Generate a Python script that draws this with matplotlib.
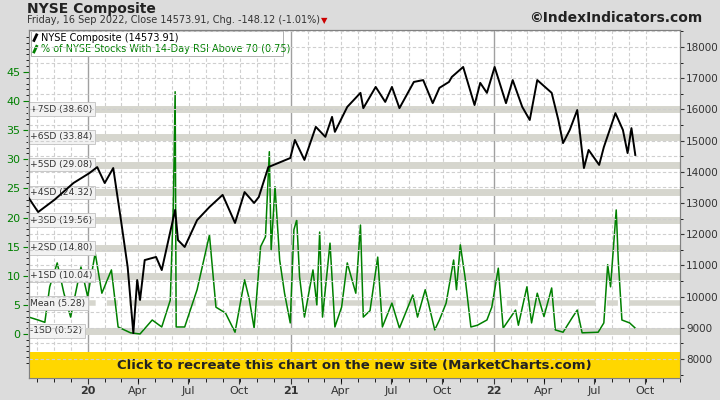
import matplotlib
matplotlib.use("Agg")
import matplotlib.pyplot as plt
from matplotlib.patches import Rectangle
import numpy as np

# ---- data (decimal years) ----
nyse_t = [2019.710, 2019.756, 2019.836, 2019.930, 2020.009, 2020.047, 2020.084, 2020.126, 2020.164, 2020.197,
          2020.225, 2020.244, 2020.258, 2020.281, 2020.337, 2020.365, 2020.431, 2020.445, 2020.478, 2020.539,
          2020.600, 2020.665, 2020.726, 2020.773, 2020.820, 2020.843, 2020.890, 2020.998, 2021.021, 2021.068,
          2021.124, 2021.171, 2021.204, 2021.218, 2021.279, 2021.344, 2021.358, 2021.419, 2021.466, 2021.499,
          2021.536, 2021.607, 2021.653, 2021.700, 2021.733, 2021.780, 2021.794, 2021.850, 2021.906, 2021.934,
          2021.967, 2022.005, 2022.061, 2022.094, 2022.141, 2022.178, 2022.215, 2022.286, 2022.319, 2022.342,
          2022.375, 2022.412, 2022.445, 2022.468, 2022.520, 2022.543, 2022.600, 2022.637, 2022.660, 2022.679,
          2022.698]
nyse_v = [13160, 12710, 13100, 13640, 13960, 14150, 13640, 14120, 12450, 10950,
          8830, 10530, 9890, 11170, 11270, 10850, 12780, 11810, 11590, 12450,
          12870, 13260, 12360, 13350, 13000, 13190, 14150, 14440, 15020, 14380,
          15440, 15120, 15760, 15280, 16080, 16530, 16040, 16720, 16240, 16720,
          16040, 16880, 16940, 16200, 16690, 16880, 17040, 17360, 16140, 16850,
          16530, 17360, 16200, 16940, 16080, 15660, 16940, 16530, 15660, 14920,
          15340, 15980, 14120, 14700, 14220, 14790, 15880, 15340, 14600, 15400,
          14540]

rsi_t = [2019.710, 2019.756, 2019.789, 2019.813, 2019.850, 2019.883, 2019.916, 2019.967, 2020.000, 2020.037,
         2020.070, 2020.117, 2020.150, 2020.211, 2020.258, 2020.318, 2020.365, 2020.407, 2020.422, 2020.431,
         2020.436, 2020.478, 2020.539, 2020.600, 2020.632, 2020.679, 2020.726, 2020.773, 2020.796, 2020.820,
         2020.852, 2020.876, 2020.895, 2020.904, 2020.923, 2020.946, 2020.970, 2020.998, 2021.016, 2021.030,
         2021.044, 2021.068, 2021.110, 2021.129, 2021.143, 2021.157, 2021.194, 2021.218, 2021.251, 2021.279,
         2021.321, 2021.344, 2021.358, 2021.391, 2021.429, 2021.452, 2021.499, 2021.536, 2021.602, 2021.625,
         2021.663, 2021.710, 2021.733, 2021.766, 2021.780, 2021.803, 2021.817, 2021.836, 2021.859, 2021.888,
         2021.920, 2021.967, 2021.991, 2022.023, 2022.047, 2022.108, 2022.122, 2022.164, 2022.187, 2022.215,
         2022.248, 2022.286, 2022.304, 2022.342, 2022.389, 2022.412, 2022.436, 2022.515, 2022.543, 2022.562,
         2022.576, 2022.604, 2022.614, 2022.632, 2022.670, 2022.698]
rsi_v = [2.9, 2.4, 2.0, 8.1, 12.2, 7.0, 2.9, 11.5, 6.4, 13.9,
         7.0, 11.0, 1.2, 0.2, 0.0, 2.4, 1.2, 5.8, 22.0, 41.6,
         1.2, 1.2, 7.6, 17.0, 4.6, 3.6, 0.3, 9.3, 6.0, 1.0,
         15.0, 16.7, 31.3, 14.4, 25.3, 12.7, 7.0, 1.9, 17.9, 19.6,
         9.8, 2.9, 11.0, 5.0, 17.5, 2.9, 15.6, 1.2, 4.6, 12.2,
         7.0, 18.7, 2.9, 4.0, 13.2, 1.2, 5.3, 1.0, 6.7, 2.9,
         7.6, 0.7, 2.4, 5.3, 8.1, 12.7, 7.6, 15.3, 9.8, 1.2,
         1.5, 2.4, 4.6, 11.3, 1.0, 4.1, 1.5, 8.1, 1.9, 7.0,
         3.0, 7.9, 0.7, 0.3, 2.9, 4.1, 0.2, 0.3, 1.9, 11.9,
         8.1, 21.3, 12.7, 2.4, 1.9, 1.0]

sd_labels = ["+7SD (38.60)", "+6SD (33.84)", "+5SD (29.08)", "+4SD (24.32)", "+3SD (19.56)",
             "+2SD (14.80)", "+1SD (10.04)", "Mean (5.28)", "-1SD (0.52)"]
sd_values = [38.60, 33.84, 29.08, 24.32, 19.56, 14.80, 10.04, 5.28, 0.52]

year_ticks = [2020.0, 2021.0, 2022.0]
year_labels = ["20", "21", "22"]
month_labels = ["Apr", "Jul", "Oct"]
month_offsets = [0.247, 0.496, 0.748]

# ---- figure ----
fig = plt.figure(figsize=(7.2, 4.0), dpi=100)
fig.patch.set_facecolor("#dcdcdc")
ax = fig.add_axes([0.040, 0.055, 0.904, 0.870])
ax.set_facecolor("white")
x0, x1 = 2019.710, 2020 + (680 - 90) / 213.5
ax.set_xlim(x0, x1)
ax.set_ylim(-7.56, 52.2)

m = 2019 + 9 / 12
while m < x1:
    yr_start = abs(m - round(m)) < 1e-6
    ax.axvline(m, color="#a0a0a0" if yr_start else "#cfcfcf",
               lw=1.0 if yr_start else 0.8, ls="-" if yr_start else (0, (3, 2)), zorder=1)
    m += 1 / 12
ax2 = ax.twinx()
ax2.set_ylim(7390, 18545)
for v in range(8000, 18600, 500):
    ax2.axhline(v, color="#cfcfcf", lw=0.8, ls=(0, (3, 2)), zorder=1)

for lab, v in zip(sd_labels, sd_values):
    if lab.startswith("Mean"):
        ax.axhline(v, color="#d6d6ce", lw=4, ls=(0, (12, 2, 2, 2)), zorder=2)
    else:
        ax.axhline(v, color="#d6d6ce", lw=5, zorder=2)
    ax.text(x0 + 0.008, v, lab, fontsize=6.6, color="#333333", va="center", ha="left", zorder=6,
            bbox=dict(boxstyle="square,pad=0.25", fc="#f2f2f2", ec="#c0c0c0", lw=0.6))

ax.plot(rsi_t, rsi_v, color="#008000", lw=1.1, zorder=4)
ax2.plot(nyse_t, nyse_v, color="black", lw=1.4, zorder=5)
ax2.set_zorder(ax.get_zorder() + 1)
ax2.patch.set_visible(False)

ax.set_yticks(range(0, 50, 5))
ax.set_yticks(np.arange(-5, 52, 1), minor=True)
ax.tick_params(axis="y", colors="#008000", labelsize=8, direction="out", length=4, pad=2)
ax.tick_params(axis="y", which="minor", length=2)
ax2.set_yticks(range(8000, 18001, 1000))
ax2.set_yticks(range(7500, 18501, 500), minor=True)
ax2.set_yticklabels([str(v) for v in range(8000, 18001, 1000)])
ax2.tick_params(axis="y", colors="#333333", labelsize=7.5, length=3, pad=1.5)
ax2.tick_params(axis="y", which="minor", length=2)

xt, xl = [], []
for y, yl in zip(year_ticks, year_labels):
    xt.append(y); xl.append(yl)
    for mo, ml in zip(month_offsets, month_labels):
        if y + mo < x1:
            xt.append(y + mo); xl.append(ml)
ax.set_xticks(xt)
ax.set_xticklabels(xl)
for lbl, t in zip(ax.get_xticklabels(), xl):
    if t in year_labels:
        lbl.set_fontweight("bold")
ax.set_xticks([2019 + k / 12 for k in range(9, 48)], minor=True)
ax.tick_params(axis="x", labelsize=8, colors="#333333", length=4, pad=2)
ax.tick_params(axis="x", which="minor", length=3)
for a in (ax, ax2):
    for s in a.spines.values():
        s.set_color("#808080")

ax.add_patch(Rectangle((0, 0), 1, 26 / 348, transform=ax.transAxes, fc="#ffd700", ec="none", zorder=7))
ax.text(0.5, 13 / 348, "Click to recreate this chart on the new site (MarketCharts.com)", transform=ax.transAxes,
        ha="center", va="center", fontsize=9.5, fontweight="bold", color="#222222", zorder=8)

ax.add_patch(Rectangle((0.003, 0.925), 0.388, 0.072, transform=ax.transAxes, fc="white", ec="#b0b0b0",
                       lw=0.7, zorder=7))
ax.text(0.018, 0.978, "NYSE Composite (14573.91)", transform=ax.transAxes, fontsize=7, color="black",
        va="center", zorder=8)
ax.text(0.018, 0.945, "% of NYSE Stocks With 14-Day RSI Above 70 (0.75)", transform=ax.transAxes,
        fontsize=7, color="#008000", va="center", zorder=8)
ax.plot([0.008, 0.012], [0.970, 0.986], transform=ax.transAxes, color="black", lw=2, zorder=8)
ax.plot([0.008, 0.012], [0.937, 0.953], transform=ax.transAxes, color="#008000", lw=2, zorder=8)

fig.text(0.038, 0.978, "NYSE Composite", fontsize=10, fontweight="bold", va="center", color="#222222")
fig.text(0.038, 0.950, "Friday, 16 Sep 2022, Close 14573.91, Chg. -148.12 (-1.01%)", fontsize=7,
         va="center", color="#333333")
fig.text(0.446, 0.948, "\u25BC", fontsize=6, color="#cc0000", va="center")
fig.text(0.975, 0.955, "\u00a9IndexIndicators.com", fontsize=10, fontweight="bold", ha="right",
         va="center", color="#222222")

fig.savefig("out.png", dpi=100, facecolor=fig.get_facecolor())
